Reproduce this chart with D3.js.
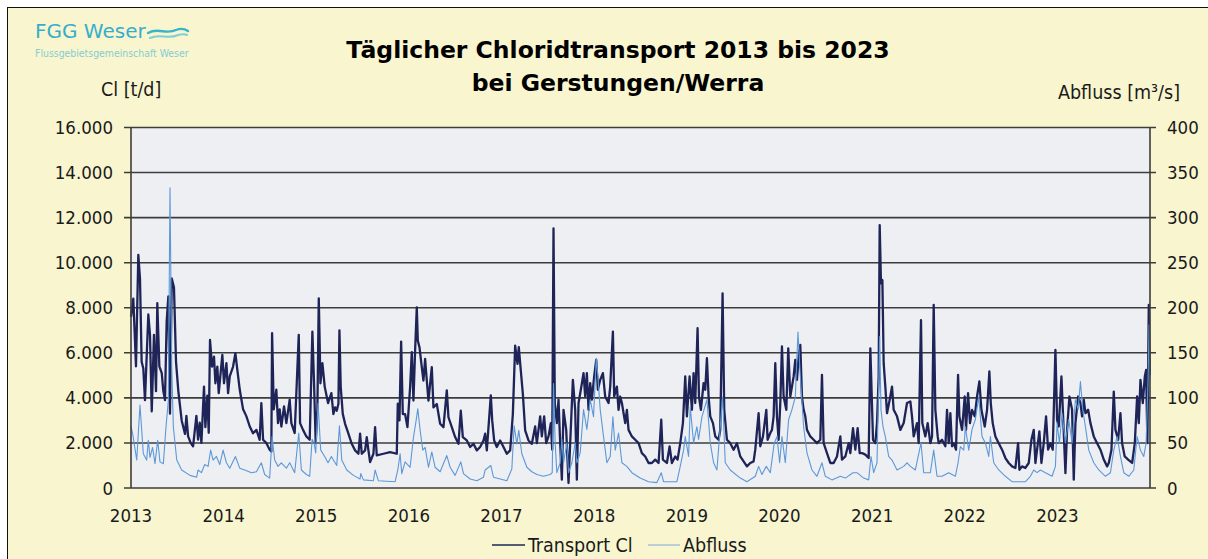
<!DOCTYPE html>
<meta charset="utf-8">
<head>
  <title>Chloridtransport Gerstungen</title>
</head>

<style>
  html, body {
    margin: 0;
    padding: 0;
    background: #fff;
  }
  svg text {
    font-family: "DejaVu Sans Condensed", "DejaVu Sans", sans-serif;
    fill: #1a1a1a;
  }
</style>

<body>
<svg id="chart" width="1208" height="559"></svg>

<script src="https://cdnjs.cloudflare.com/ajax/libs/d3/7.8.5/d3.min.js"></script>
<script>
  var transportCl = [
    [2013.000, 7600], [2013.025, 8400], [2013.054, 5400], [2013.079, 10350], [2013.097, 9300],
    [2013.115, 5600], [2013.133, 5300], [2013.151, 3900], [2013.187, 7700], [2013.205, 6800],
    [2013.224, 3400], [2013.248, 6800], [2013.270, 4300], [2013.284, 8200], [2013.306, 5400],
    [2013.332, 5100], [2013.349, 4300], [2013.367, 3900], [2013.385, 7400], [2013.403, 8500],
    [2013.421, 3300], [2013.440, 9300], [2013.464, 8900], [2013.486, 5600], [2013.511, 4300],
    [2013.547, 3000], [2013.583, 2400], [2013.598, 3200], [2013.616, 2300], [2013.644, 2000],
    [2013.670, 1850], [2013.706, 3200], [2013.724, 2150], [2013.742, 2900], [2013.760, 2000],
    [2013.788, 4500], [2013.803, 2700], [2013.824, 4100], [2013.839, 2450], [2013.853, 6570],
    [2013.875, 5390], [2013.896, 5830], [2013.911, 4650], [2013.932, 5390], [2013.947, 4210],
    [2013.986, 5910], [2014.004, 4650], [2014.030, 5540], [2014.048, 4210], [2014.066, 4950],
    [2014.102, 5390], [2014.127, 5980], [2014.148, 5240], [2014.174, 4360], [2014.210, 3490],
    [2014.245, 3190], [2014.282, 2730], [2014.317, 2430], [2014.354, 2580], [2014.389, 2140],
    [2014.407, 3770], [2014.426, 2140], [2014.462, 1990], [2014.497, 1700], [2014.515, 1620],
    [2014.523, 6870], [2014.541, 3490], [2014.569, 4360], [2014.587, 2880], [2014.605, 3490],
    [2014.623, 2730], [2014.652, 3620], [2014.677, 2880], [2014.713, 3920], [2014.731, 2880],
    [2014.767, 2440], [2014.811, 6800], [2014.825, 2880], [2014.857, 2580], [2014.893, 2290],
    [2014.929, 2140], [2014.958, 6940], [2014.976, 4650], [2014.994, 1990], [2015.012, 3490],
    [2015.027, 8420], [2015.045, 4650], [2015.066, 5540], [2015.091, 4500], [2015.127, 3770],
    [2015.163, 4210], [2015.185, 3280], [2015.203, 3580], [2015.221, 3430], [2015.239, 3740],
    [2015.250, 7000], [2015.264, 4480], [2015.286, 3290], [2015.311, 2850], [2015.347, 2410],
    [2015.383, 1960], [2015.419, 1670], [2015.455, 1520], [2015.473, 2410], [2015.491, 1520],
    [2015.527, 1670], [2015.545, 2260], [2015.563, 1670], [2015.581, 1150], [2015.617, 1520],
    [2015.635, 2700], [2015.653, 1450], [2015.725, 1520], [2015.797, 1590], [2015.869, 1520],
    [2015.880, 3740], [2015.898, 3000], [2015.916, 6500], [2015.934, 3280], [2015.959, 3280],
    [2015.984, 2700], [2016.013, 4480], [2016.031, 6030], [2016.049, 3880], [2016.067, 6100],
    [2016.085, 8020], [2016.096, 6540], [2016.114, 6250], [2016.139, 5360], [2016.157, 4770],
    [2016.175, 5730], [2016.193, 4770], [2016.211, 3880], [2016.247, 5360], [2016.265, 3580],
    [2016.301, 3730], [2016.337, 2850], [2016.373, 2700], [2016.409, 4330], [2016.427, 3140],
    [2016.463, 2700], [2016.499, 2260], [2016.535, 1960], [2016.560, 3430], [2016.582, 2260],
    [2016.625, 2110], [2016.661, 1820], [2016.697, 1960], [2016.733, 1670], [2016.769, 1820],
    [2016.805, 2110], [2016.823, 2410], [2016.841, 1670], [2016.884, 4110], [2016.899, 3000],
    [2016.920, 2110], [2016.949, 1820], [2016.985, 2110], [2017.021, 1820], [2017.057, 1520],
    [2017.093, 1670], [2017.122, 3280], [2017.147, 6320], [2017.172, 5510], [2017.186, 6250],
    [2017.208, 5210], [2017.230, 4180], [2017.255, 2560], [2017.291, 2110], [2017.327, 1960],
    [2017.363, 2730], [2017.381, 1990], [2017.417, 3180], [2017.435, 2290], [2017.460, 3180],
    [2017.482, 1990], [2017.507, 2290], [2017.532, 2880], [2017.547, 1700], [2017.561, 11520],
    [2017.575, 3770], [2017.597, 2880], [2017.615, 3920], [2017.633, 1990], [2017.651, 370],
    [2017.669, 3470], [2017.698, 2580], [2017.723, 220], [2017.741, 1990], [2017.770, 4800],
    [2017.795, 3470], [2017.813, 370], [2017.831, 3770], [2017.856, 4360], [2017.885, 5100],
    [2017.903, 4060], [2017.921, 5100], [2017.939, 3470], [2017.957, 4650], [2017.975, 3920],
    [2018.000, 4950], [2018.022, 5690], [2018.040, 4360], [2018.065, 4800], [2018.094, 5100],
    [2018.119, 4060], [2018.155, 3770], [2018.173, 4500], [2018.202, 6940], [2018.216, 4060],
    [2018.245, 4500], [2018.263, 3470], [2018.281, 4060], [2018.299, 3770], [2018.335, 2880],
    [2018.353, 3470], [2018.371, 2580], [2018.407, 2290], [2018.443, 2140], [2018.479, 1990],
    [2018.515, 1550], [2018.551, 1400], [2018.587, 1110], [2018.623, 1110], [2018.659, 1260],
    [2018.695, 1110], [2018.724, 3030], [2018.742, 1260], [2018.785, 1110], [2018.814, 1850],
    [2018.839, 1110], [2018.875, 1400], [2018.900, 1260], [2018.929, 1990], [2018.958, 2880],
    [2018.983, 4950], [2019.001, 3180], [2019.030, 4950], [2019.055, 3470], [2019.073, 5100],
    [2019.091, 3770], [2019.116, 7090], [2019.131, 4060], [2019.152, 3470], [2019.181, 4650],
    [2019.199, 4360], [2019.217, 5760], [2019.235, 4060], [2019.253, 3180], [2019.282, 2880],
    [2019.307, 2290], [2019.343, 2140], [2019.361, 2580], [2019.386, 8640], [2019.404, 3470],
    [2019.433, 2140], [2019.469, 1990], [2019.505, 1700], [2019.541, 1990], [2019.577, 1400],
    [2019.613, 1180], [2019.649, 960], [2019.685, 1110], [2019.721, 1180], [2019.739, 1700],
    [2019.775, 3320], [2019.793, 1850], [2019.822, 2290], [2019.858, 3470], [2019.872, 2140],
    [2019.901, 2440], [2019.919, 2580], [2019.937, 3180], [2019.955, 5540], [2019.973, 3180],
    [2019.991, 2140], [2020.009, 3770], [2020.027, 6280], [2020.045, 4060], [2020.074, 3470],
    [2020.095, 6200], [2020.117, 4060], [2020.135, 4500], [2020.153, 4950], [2020.171, 5690],
    [2020.189, 4800], [2020.207, 5830], [2020.225, 6350], [2020.243, 4060], [2020.261, 3470],
    [2020.279, 3180], [2020.297, 2580], [2020.333, 2290], [2020.369, 2140], [2020.405, 1990],
    [2020.441, 2140], [2020.459, 5020], [2020.477, 1990], [2020.513, 1550], [2020.549, 1110],
    [2020.585, 1110], [2020.621, 1400], [2020.657, 2290], [2020.675, 1260], [2020.711, 1400],
    [2020.747, 1990], [2020.765, 1550], [2020.794, 2660], [2020.819, 1700], [2020.844, 2660],
    [2020.866, 1550], [2020.891, 1550], [2020.927, 1480], [2020.963, 1330], [2020.981, 6200],
    [2021.010, 2140], [2021.035, 1990], [2021.053, 2880], [2021.071, 4950], [2021.082, 11670],
    [2021.096, 9080], [2021.111, 9230], [2021.125, 5540], [2021.143, 4500], [2021.161, 3320],
    [2021.190, 3920], [2021.215, 4500], [2021.233, 3470], [2021.269, 3180], [2021.305, 2580],
    [2021.341, 2880], [2021.377, 3770], [2021.413, 3840], [2021.431, 3180], [2021.449, 2290],
    [2021.485, 2880], [2021.503, 1990], [2021.528, 7450], [2021.542, 2880], [2021.575, 2290],
    [2021.600, 2880], [2021.629, 1990], [2021.647, 2290], [2021.665, 8130], [2021.683, 3470],
    [2021.708, 2290], [2021.719, 1990], [2021.755, 2140], [2021.791, 1850], [2021.809, 3470],
    [2021.827, 1990], [2021.845, 3320], [2021.863, 1850], [2021.881, 1990], [2021.906, 1700],
    [2021.928, 5020], [2021.942, 3180], [2021.971, 2580], [2022.000, 4060], [2022.014, 2580],
    [2022.036, 4210], [2022.057, 2880], [2022.079, 3470], [2022.108, 3180], [2022.133, 4060],
    [2022.158, 4730], [2022.180, 3470], [2022.216, 2730], [2022.241, 3470], [2022.266, 5170],
    [2022.281, 3770], [2022.302, 2880], [2022.331, 2290], [2022.367, 1990], [2022.403, 1700],
    [2022.439, 1330], [2022.475, 1110], [2022.511, 960], [2022.547, 890], [2022.576, 1990],
    [2022.590, 810], [2022.619, 960], [2022.655, 890], [2022.691, 1110], [2022.720, 2140],
    [2022.745, 2580], [2022.763, 1110], [2022.781, 1700], [2022.806, 2510], [2022.828, 1110],
    [2022.853, 1990], [2022.878, 3180], [2022.900, 1700], [2022.925, 1990], [2022.950, 1700],
    [2022.979, 6130], [2022.997, 3030], [2023.015, 2730], [2023.044, 4950], [2023.062, 3180],
    [2023.087, 660], [2023.105, 2580], [2023.130, 4060], [2023.159, 3470], [2023.177, 370],
    [2023.195, 2880], [2023.224, 4060], [2023.249, 3770], [2023.267, 3180], [2023.285, 3920],
    [2023.303, 3320], [2023.332, 3470], [2023.357, 2880], [2023.393, 2290], [2023.429, 1990],
    [2023.465, 1700], [2023.501, 1260], [2023.537, 960], [2023.555, 1110], [2023.584, 1700],
    [2023.609, 4280], [2023.627, 2580], [2023.656, 2140], [2023.681, 3320], [2023.699, 1990],
    [2023.727, 1400], [2023.764, 1260], [2023.807, 1110], [2023.836, 1990], [2023.861, 4060],
    [2023.879, 2880], [2023.897, 4800], [2023.922, 3770], [2023.944, 4950], [2023.958, 5240],
    [2023.972, 1990], [2023.987, 8130], [2023.997, 5000]
  ];

  var abfluss = [
    [2013.000, 68], [2013.018, 60], [2013.062, 31], [2013.097, 92], [2013.133, 38],
    [2013.169, 31], [2013.187, 53], [2013.205, 34], [2013.233, 45], [2013.259, 27],
    [2013.288, 53], [2013.313, 29], [2013.349, 27], [2013.378, 68], [2013.403, 97],
    [2013.421, 333], [2013.440, 134], [2013.457, 68], [2013.494, 31], [2013.547, 20],
    [2013.637, 14], [2013.709, 12], [2013.724, 20], [2013.760, 17], [2013.796, 26],
    [2013.832, 24], [2013.860, 42], [2013.886, 31], [2013.922, 35], [2013.958, 26],
    [2013.994, 42], [2014.030, 28], [2014.066, 22], [2014.127, 35], [2014.174, 22],
    [2014.228, 20], [2014.300, 17], [2014.354, 18], [2014.407, 28], [2014.443, 15],
    [2014.497, 11], [2014.523, 57], [2014.551, 31], [2014.587, 24], [2014.623, 28],
    [2014.677, 22], [2014.713, 28], [2014.767, 17], [2014.811, 61], [2014.839, 20],
    [2014.893, 15], [2014.929, 13], [2014.955, 54], [2014.976, 50], [2014.994, 39],
    [2015.019, 94], [2015.048, 42], [2015.091, 35], [2015.127, 28], [2015.163, 35],
    [2015.185, 31], [2015.221, 25], [2015.250, 69], [2015.275, 31], [2015.329, 20],
    [2015.401, 14], [2015.473, 10], [2015.480, 16], [2015.509, 9], [2015.617, 8],
    [2015.635, 20], [2015.671, 8], [2015.851, 7], [2015.880, 20], [2015.905, 38],
    [2015.923, 16], [2015.959, 29], [2016.013, 23], [2016.049, 56], [2016.078, 75],
    [2016.096, 88], [2016.121, 64], [2016.150, 42], [2016.175, 45], [2016.211, 23],
    [2016.247, 40], [2016.283, 23], [2016.337, 18], [2016.409, 36], [2016.445, 23],
    [2016.499, 14], [2016.560, 29], [2016.589, 16], [2016.661, 10], [2016.733, 8],
    [2016.805, 12], [2016.823, 20], [2016.884, 25], [2016.913, 12], [2016.985, 10],
    [2017.057, 8], [2017.111, 21], [2017.136, 69], [2017.165, 49], [2017.186, 64],
    [2017.219, 38], [2017.273, 23], [2017.327, 18], [2017.381, 15], [2017.453, 13],
    [2017.525, 15], [2017.547, 17], [2017.561, 116], [2017.579, 50], [2017.597, 17],
    [2017.633, 28], [2017.651, 54], [2017.669, 28], [2017.705, 50], [2017.723, 17],
    [2017.759, 28], [2017.795, 50], [2017.813, 28], [2017.849, 39], [2017.885, 87],
    [2017.921, 65], [2017.957, 98], [2017.993, 79], [2018.022, 144], [2018.040, 124],
    [2018.065, 87], [2018.101, 57], [2018.137, 28], [2018.173, 35], [2018.202, 79],
    [2018.227, 42], [2018.263, 61], [2018.299, 28], [2018.353, 24], [2018.407, 17],
    [2018.497, 11], [2018.587, 7], [2018.677, 6], [2018.724, 17], [2018.749, 7],
    [2018.893, 7], [2018.929, 24], [2018.965, 42], [2018.983, 57], [2019.019, 35],
    [2019.037, 90], [2019.073, 50], [2019.109, 68], [2019.127, 54], [2019.163, 79],
    [2019.217, 98], [2019.253, 50], [2019.289, 28], [2019.325, 20], [2019.386, 101],
    [2019.415, 28], [2019.469, 20], [2019.577, 11], [2019.649, 7], [2019.739, 13],
    [2019.775, 24], [2019.811, 15], [2019.858, 24], [2019.901, 17], [2019.944, 50],
    [2019.973, 57], [2020.002, 28], [2020.027, 57], [2020.063, 28], [2020.099, 76],
    [2020.135, 87], [2020.171, 101], [2020.200, 173], [2020.225, 124], [2020.261, 68],
    [2020.297, 39], [2020.351, 20], [2020.405, 13], [2020.459, 28], [2020.495, 13],
    [2020.567, 9], [2020.657, 13], [2020.711, 11], [2020.794, 17], [2020.837, 17],
    [2020.909, 11], [2020.963, 9], [2020.988, 35], [2021.017, 17], [2021.053, 28],
    [2021.082, 168], [2021.096, 87], [2021.118, 68], [2021.143, 57], [2021.179, 35],
    [2021.215, 31], [2021.269, 20], [2021.341, 24], [2021.377, 28], [2021.413, 24],
    [2021.467, 20], [2021.528, 50], [2021.557, 17], [2021.629, 17], [2021.665, 42],
    [2021.701, 13], [2021.755, 13], [2021.827, 17], [2021.899, 13], [2021.928, 28],
    [2021.953, 46], [2021.989, 42], [2022.007, 68], [2022.043, 42], [2022.079, 65],
    [2022.115, 76], [2022.151, 101], [2022.187, 57], [2022.223, 50], [2022.259, 35],
    [2022.277, 57], [2022.313, 28], [2022.367, 20], [2022.439, 13], [2022.511, 7],
    [2022.655, 7], [2022.709, 13], [2022.745, 20], [2022.781, 17], [2022.817, 20],
    [2022.871, 17], [2022.943, 13], [2022.979, 24], [2022.997, 72], [2023.022, 50],
    [2023.051, 83], [2023.087, 50], [2023.123, 76], [2023.159, 50], [2023.195, 98],
    [2023.224, 87], [2023.249, 118], [2023.274, 87], [2023.303, 68], [2023.339, 42],
    [2023.393, 28], [2023.447, 20], [2023.519, 13], [2023.573, 17], [2023.609, 42],
    [2023.645, 57], [2023.681, 35], [2023.717, 17], [2023.771, 13], [2023.825, 20],
    [2023.861, 57], [2023.897, 42], [2023.933, 35], [2023.958, 50], [2023.980, 124],
    [2023.990, 181], [2023.997, 120]
  ];

  var years = [2013, 2014, 2015, 2016, 2017, 2018, 2019, 2020, 2021, 2022, 2023];
  var clTicks = [0, 2000, 4000, 6000, 8000, 10000, 12000, 14000, 16000];
  var qTicks = [0, 50, 100, 150, 200, 250, 300, 350, 400];

  var svg = d3.select('#chart');

  var plot = { left: 131, right: 1150, top: 127.5, bottom: 488 };

  var de = d3.formatLocale({ decimal: ",", thousands: ".", grouping: [3], currency: ["", " €"] });
  var fmt = de.format(",d");

  var x = d3.scaleLinear().domain([2013, 2024]).range([plot.left, plot.right]);
  var yCl = d3.scaleLinear().domain([0, 16000]).range([plot.bottom, plot.top]);
  var yQ = d3.scaleLinear().domain([0, 400]).range([plot.bottom, plot.top]);

  // Hintergrund mit Rahmen
  svg.append('rect')
    .attr('x', 7.5).attr('y', 7.5)
    .attr('width', 1220).attr('height', 570)
    .attr('fill', '#f8f5cf')
    .attr('stroke', '#111')
    .attr('stroke-width', 1);

  // Logo
  svg.append('text')
    .attr('x', 35).attr('y', 38)
    .style('font-family', '"DejaVu Sans", sans-serif')
    .style('font-size', '20px')
    .style('fill', '#36aecb')
    .text('FGG Weser');

  var wave = svg.append('g').attr('fill', 'none').attr('stroke-linecap', 'round');
  wave.append('path')
    .attr('d', 'M148,33 C158,27 166,35 176,30 C181,28 185,29 188,31')
    .attr('stroke', '#3ab4cc').attr('stroke-width', 2.4);
  wave.append('path')
    .attr('d', 'M150,38 C160,33 168,40 178,35 C182,34 185,34 187,35')
    .attr('stroke', '#7fcfd6').attr('stroke-width', 2);

  svg.append('text')
    .attr('x', 35).attr('y', 57)
    .style('font-size', '10.4px')
    .style('fill', '#86cdd0')
    .text('Flussgebietsgemeinschaft Weser');

  // Titel
  var title = svg.append('text')
    .attr('text-anchor', 'middle')
    .style('font-family', '"DejaVu Sans", sans-serif')
    .style('font-size', '23.5px')
    .style('font-weight', 'bold')
    .style('fill', '#000');
  title.append('tspan').attr('x', 618).attr('y', 58).text('Täglicher Chloridtransport 2013 bis 2023');
  title.append('tspan').attr('x', 618).attr('y', 91).text('bei Gerstungen/Werra');

  // Achsentitel
  svg.append('text')
    .attr('x', 101).attr('y', 96)
    .style('font-size', '19.5px')
    .text('Cl [t/d]');

  svg.append('text')
    .attr('x', 1180).attr('y', 99)
    .attr('text-anchor', 'end')
    .style('font-size', '19.5px')
    .text('Abfluss [m³/s]');

  // Plotfläche
  svg.append('rect')
    .attr('x', plot.left).attr('y', plot.top)
    .attr('width', plot.right - plot.left)
    .attr('height', plot.bottom - plot.top)
    .attr('fill', '#eeeff2');

  // Gitterlinien
  svg.append('g')
    .selectAll('line')
    .data(clTicks)
    .enter()
    .append('line')
    .attr('x1', plot.left - 7)
    .attr('x2', plot.right + 6)
    .attr('y1', function(d) { return yCl(d); })
    .attr('y2', function(d) { return yCl(d); })
    .attr('stroke', '#3d3d3d')
    .attr('stroke-width', 1.6);

  // Linien
  var clLine = d3.line()
    .x(function(d) { return x(d[0]); })
    .y(function(d) { return yCl(d[1]); });

  var qLine = d3.line()
    .x(function(d) { return x(d[0]); })
    .y(function(d) { return yQ(d[1]); });

  svg.append('path')
    .datum(transportCl)
    .attr('d', clLine)
    .attr('fill', 'none')
    .attr('stroke', '#1e2457')
    .attr('stroke-width', 2.3)
    .attr('stroke-linejoin', 'round');

  svg.append('path')
    .datum(abfluss)
    .attr('d', qLine)
    .attr('fill', 'none')
    .attr('stroke', '#5c98d8')
    .attr('stroke-width', 1.1)
    .attr('stroke-linejoin', 'round');

  // Achsen
  svg.append('line')
    .attr('x1', plot.left).attr('x2', plot.left)
    .attr('y1', plot.top).attr('y2', plot.bottom)
    .attr('stroke', '#3d3d3d').attr('stroke-width', 1.6);
  svg.append('line')
    .attr('x1', plot.right).attr('x2', plot.right)
    .attr('y1', plot.top).attr('y2', plot.bottom)
    .attr('stroke', '#3d3d3d').attr('stroke-width', 1.6);

  svg.append('g')
    .selectAll('text')
    .data(clTicks)
    .enter()
    .append('text')
    .attr('x', 113)
    .attr('y', function(d) { return yCl(d) + 6.5; })
    .attr('text-anchor', 'end')
    .style('font-size', '18.5px')
    .text(function(d) { return fmt(d); });

  svg.append('g')
    .selectAll('text')
    .data(qTicks)
    .enter()
    .append('text')
    .attr('x', 1167)
    .attr('y', function(d) { return yQ(d) + 6.5; })
    .style('font-size', '18.5px')
    .text(function(d) { return d; });

  svg.append('g')
    .selectAll('text')
    .data(years)
    .enter()
    .append('text')
    .attr('x', function(d) { return x(d); })
    .attr('y', 522)
    .attr('text-anchor', 'middle')
    .style('font-size', '18.5px')
    .text(function(d) { return d; });

  // Legende
  var legend = svg.append('g');
  legend.append('line')
    .attr('x1', 492).attr('x2', 525).attr('y1', 545).attr('y2', 545)
    .attr('stroke', '#1e2457').attr('stroke-width', 1.3);
  legend.append('text')
    .attr('x', 528).attr('y', 552)
    .style('font-size', '19.5px')
    .text('Transport Cl');
  legend.append('line')
    .attr('x1', 648).attr('x2', 680).attr('y1', 545).attr('y2', 545)
    .attr('stroke', '#7ea9dc').attr('stroke-width', 1);
  legend.append('text')
    .attr('x', 683).attr('y', 552)
    .style('font-size', '19.5px')
    .text('Abfluss');
</script>
</body>
</html>
